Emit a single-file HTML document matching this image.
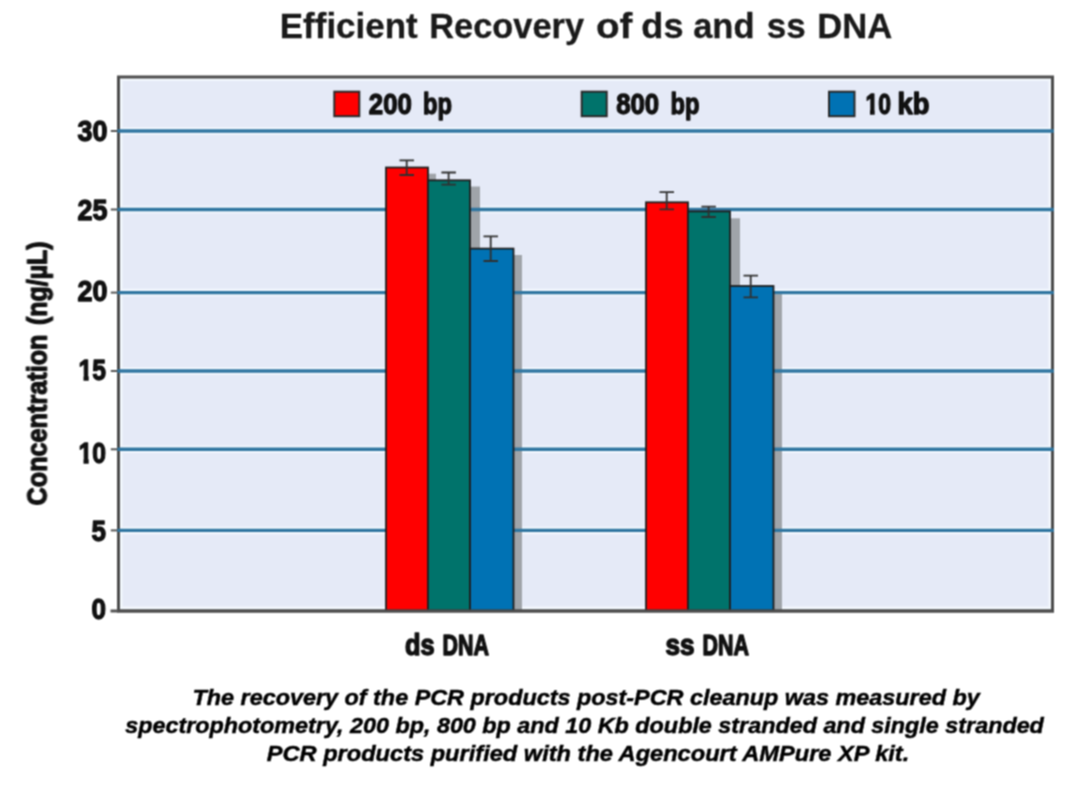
<!DOCTYPE html>
<html lang="en">
<head>
<meta charset="utf-8">
<title>Efficient Recovery of ds and ss DNA</title>
<style>
  html, body { margin: 0; padding: 0; background: #ffffff; }
  body { width: 1080px; height: 789px; overflow: hidden; position: relative; }
  svg { position: absolute; left: 0; top: 0; display: block; }
  text { font-family: "Liberation Sans", sans-serif; font-weight: bold; fill: #111; }
  .cap { font-style: italic; fill: #000; stroke: #000; stroke-width: 0.45px; }
  .ttl { fill: #1a1a1a; stroke: #1a1a1a; stroke-width: 0.3px; }
  .cond { stroke: #111; stroke-width: 1.3px; stroke-linejoin: round; }
  .xl { stroke-width: 1.5px; }
</style>
</head>
<body>
<svg width="1080" height="789" viewBox="0 0 1080 789">
  <defs>
    <filter id="soft" x="0" y="0" width="1080" height="789" filterUnits="userSpaceOnUse" color-interpolation-filters="sRGB">
      <feConvolveMatrix order="3" kernelMatrix="1 2 1 2 4 2 1 2 1" divisor="16" edgeMode="duplicate" preserveAlpha="false"/>
    </filter>
  </defs>
  <rect x="0" y="0" width="1080" height="789" fill="#ffffff"/>

  <g filter="url(#soft)">
  <!-- title -->
  <text class="ttl" y="38.3" font-size="35.5"><tspan x="279.8" textLength="137.9" lengthAdjust="spacingAndGlyphs">Efficient</tspan> <tspan x="429.3" textLength="154.7" lengthAdjust="spacingAndGlyphs">Recovery</tspan> <tspan x="596.0" textLength="36.5" lengthAdjust="spacingAndGlyphs">of</tspan> <tspan x="641.3" textLength="42.2" lengthAdjust="spacingAndGlyphs">ds</tspan> <tspan x="693.2" textLength="61.3" lengthAdjust="spacingAndGlyphs">and</tspan> <tspan x="766.7" textLength="39.0" lengthAdjust="spacingAndGlyphs">ss</tspan> <tspan x="817.2" textLength="75.0" lengthAdjust="spacingAndGlyphs">DNA</tspan></text>

  <!-- plot background -->
  <rect x="118.5" y="77" width="934" height="533.5" fill="#e5eaf7"/>
  <!-- inner light halo -->
  <rect x="121" y="79.500" width="929" height="528.500" fill="none" stroke="#f2f7fd" stroke-width="3"/>

  <!-- gridlines -->
  <g stroke="#f1f6fd" stroke-width="7.500">
    <line x1="120" x2="1051" y1="131" y2="131"/>
    <line x1="120" x2="1051" y1="209.500" y2="209.500"/>
    <line x1="120" x2="1051" y1="292.600" y2="292.600"/>
    <line x1="120" x2="1051" y1="371" y2="371"/>
    <line x1="120" x2="1051" y1="449.300" y2="449.300"/>
    <line x1="120" x2="1051" y1="530.400" y2="530.400"/>
  </g>
  <!-- shadows -->
  <g fill="#a0a4a9">
    <rect x="394" y="173.700" width="42" height="436"/>
    <rect x="436" y="186.500" width="44" height="424"/>
    <rect x="478" y="255" width="44" height="355"/>
    <rect x="654" y="208.400" width="42" height="402"/>
    <rect x="696" y="218.300" width="44" height="392"/>
    <rect x="738" y="294.200" width="44" height="316"/>
  </g>


  <!-- plot border -->
  <rect x="118.500" y="77" width="934" height="534" fill="none" stroke="#4d4d4d" stroke-width="3"/>
  <!-- gridlines over border -->
  <g stroke="#3076a1" stroke-width="3.400">
    <line x1="117.300" x2="1053.800" y1="131" y2="131"/>
    <line x1="117.300" x2="1053.800" y1="209.500" y2="209.500"/>
    <line x1="117.300" x2="1053.800" y1="292.600" y2="292.600"/>
    <line x1="117.300" x2="1053.800" y1="371" y2="371"/>
    <line x1="117.300" x2="1053.800" y1="449.300" y2="449.300"/>
    <line x1="117.300" x2="1053.800" y1="530.400" y2="530.400"/>
  </g>

  <!-- bars -->
  <g stroke="#1e1e1e" stroke-width="1.8">
    <rect x="386" y="167.500" width="42" height="443" fill="#ff0000"/>
    <rect x="428" y="180.300" width="42" height="430.200" fill="#00736b"/>
    <rect x="470" y="248.600" width="43.500" height="362" fill="#0072b4"/>
    <rect x="646" y="202.300" width="42" height="408.200" fill="#ff0000"/>
    <rect x="688" y="211.400" width="42" height="399.100" fill="#00736b"/>
    <rect x="730" y="286" width="43.500" height="324.500" fill="#0072b4"/>
  </g>


  <line x1="117" x2="1054" y1="611" y2="611" stroke="#4d4d4d" stroke-width="3"/>

  <!-- ticks -->
  <g stroke="#555555" stroke-width="2">
    <line x1="110.800" x2="117.200" y1="131" y2="131"/>
    <line x1="110.800" x2="117.200" y1="209.500" y2="209.500"/>
    <line x1="110.800" x2="117.200" y1="292.600" y2="292.600"/>
    <line x1="110.800" x2="117.200" y1="371" y2="371"/>
    <line x1="110.800" x2="117.200" y1="449.300" y2="449.300"/>
    <line x1="110.800" x2="117.200" y1="530.400" y2="530.400"/>
    <line x1="110.500" x2="118" y1="611" y2="611" stroke-width="3"/>
  </g>

  <!-- error bars -->
  <g stroke="#303030" stroke-width="1.8" fill="none">
    <path d="M406.700 160.400V175M399.500 160.400H414M399.500 175H414"/>
    <path d="M448.600 172.500V184.700M441.400 172.500H455.900M441.400 184.700H455.900"/>
    <path d="M490.700 236.400V261M483.500 236.400H498M483.500 261H498"/>
    <path d="M666.700 192.200V209.400M659.500 192.200H674M659.500 209.400H674"/>
    <path d="M708.600 206.700V217M701.400 206.700H715.900M701.400 217H715.900"/>
    <path d="M750.700 275.600V297.400M743.500 275.600H758M743.500 297.400H758"/>
  </g>

  <!-- legend -->
  <g stroke="#2a2a2a" stroke-width="2">
    <rect x="334.300" y="91.700" width="25" height="24.500" fill="#ff0000"/>
    <rect x="581.700" y="91.700" width="25" height="24.500" fill="#00736b"/>
    <rect x="829" y="91.700" width="25.500" height="24.500" fill="#0072b4"/>
  </g>
  <text class="cond" y="113.6" font-size="28.7"><tspan x="368.8" textLength="43" lengthAdjust="spacingAndGlyphs">200</tspan> <tspan x="423" textLength="29" lengthAdjust="spacingAndGlyphs">bp</tspan></text>
  <text class="cond" y="113.6" font-size="28.7"><tspan x="616.2" textLength="43" lengthAdjust="spacingAndGlyphs">800</tspan> <tspan x="670.4" textLength="29" lengthAdjust="spacingAndGlyphs">bp</tspan></text>
  <text class="cond" y="113.6" font-size="28.7"><tspan x="865.5" textLength="25.5" lengthAdjust="spacingAndGlyphs">10</tspan> <tspan x="897.5" textLength="32" lengthAdjust="spacingAndGlyphs">kb</tspan></text>

  <!-- y tick labels -->
  <text class="cond" x="77.5" y="140.9" font-size="29.4" textLength="30" lengthAdjust="spacingAndGlyphs">30</text>
  <text class="cond" x="77.5" y="219.6" font-size="29.4" textLength="30" lengthAdjust="spacingAndGlyphs">25</text>
  <text class="cond" x="77.5" y="300.7" font-size="29.4" textLength="30" lengthAdjust="spacingAndGlyphs">20</text>
  <text class="cond" x="78.5" y="380.0" font-size="29.4" textLength="27.5" lengthAdjust="spacingAndGlyphs">15</text>
  <text class="cond" x="78.5" y="462.5" font-size="29.4" textLength="27.5" lengthAdjust="spacingAndGlyphs">10</text>
  <text class="cond" x="91.5" y="540.8" font-size="29.4" textLength="14.5" lengthAdjust="spacingAndGlyphs">5</text>
  <text class="cond" x="91.5" y="619.4" font-size="29.4" textLength="14.5" lengthAdjust="spacingAndGlyphs">0</text>

  <!-- trim the foot serifs of the digit 1 so it reads like the original sans -->
  <g fill="#ffffff">
    <rect x="78" y="458.600" width="5.500" height="6.400"/>
    <rect x="88.700" y="458.600" width="4.300" height="6.400"/>
    <rect x="78" y="375.400" width="5.500" height="7.100"/>
    <rect x="88.700" y="375.400" width="4.300" height="7.100"/>
  </g>
  <g fill="#e5eaf7">
    <rect x="865" y="109.600" width="5" height="6.400"/>
    <rect x="874.700" y="109.600" width="4.300" height="6.400"/>
  </g>

  <!-- y axis label -->
  <text class="cond" transform="translate(46.5 505) rotate(-90)" y="0" font-size="28.5"><tspan x="-0.5" textLength="171" lengthAdjust="spacingAndGlyphs">Concentration</tspan> <tspan x="180" textLength="83.5" lengthAdjust="spacingAndGlyphs">(ng/µL)</tspan></text>

  <!-- x labels -->
  <text class="cond xl" y="655.3" font-size="28.7"><tspan x="405" textLength="29.5" lengthAdjust="spacingAndGlyphs">ds</tspan> <tspan x="442.5" textLength="46.5" lengthAdjust="spacingAndGlyphs">DNA</tspan></text>
  <text class="cond xl" y="655.3" font-size="28.7"><tspan x="665.5" textLength="29" lengthAdjust="spacingAndGlyphs">ss</tspan> <tspan x="702.5" textLength="46.5" lengthAdjust="spacingAndGlyphs">DNA</tspan></text>

  <!-- caption -->
  <text class="cap" x="192.5" y="705" font-size="22.9" textLength="787.2" lengthAdjust="spacingAndGlyphs">The recovery of the PCR products post-PCR cleanup was measured by</text>
  <text class="cap" x="125.2" y="733.1" font-size="22.9" textLength="918.7" lengthAdjust="spacingAndGlyphs">spectrophotometry, 200 bp, 800 bp and 10 Kb double stranded and single stranded</text>
  <text class="cap" x="266.8" y="760.6" font-size="22.9" textLength="642.5" lengthAdjust="spacingAndGlyphs">PCR products purified with the Agencourt AMPure XP kit.</text>
  </g>
</svg>
</body>
</html>
